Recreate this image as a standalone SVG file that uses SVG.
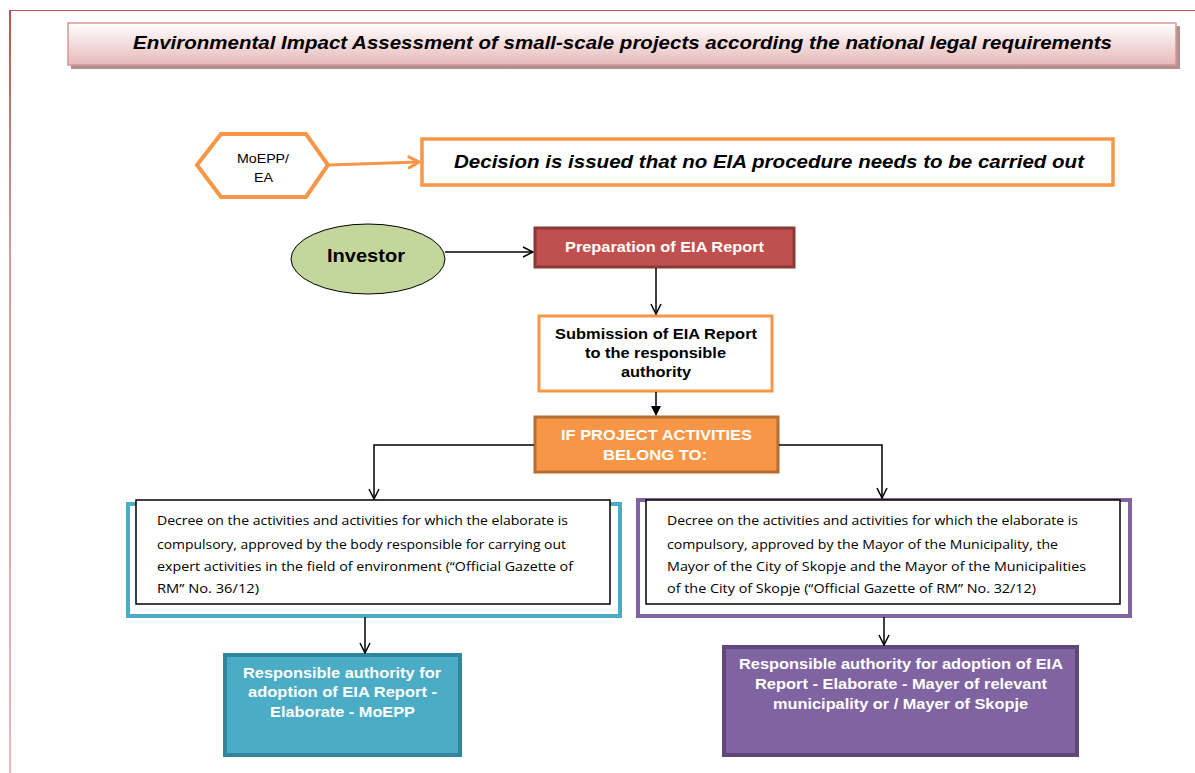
<svg xmlns="http://www.w3.org/2000/svg" width="1195" height="773" viewBox="0 0 1195 773">
<defs>
<linearGradient id="titleGrad" x1="0" y1="0" x2="0" y2="1">
<stop offset="0" stop-color="#ffffff"/>
<stop offset="1" stop-color="#e6b9b8"/>
</linearGradient>
<linearGradient id="leftGrad" x1="0" y1="0" x2="0" y2="1">
<stop offset="0" stop-color="#c0504d"/>
<stop offset="0.3" stop-color="#d99694"/>
<stop offset="1" stop-color="#e6b9b8"/>
</linearGradient>
<marker id="openBlack" viewBox="0 0 12 12" refX="11" refY="6" markerWidth="12" markerHeight="12" markerUnits="userSpaceOnUse" orient="auto">
<path d="M1,1 L11,6 L1,11" fill="none" stroke="#000" stroke-width="1.5"/>
</marker>
<marker id="openOrange" viewBox="0 0 14 14" refX="12" refY="7" markerWidth="14" markerHeight="14" markerUnits="userSpaceOnUse" orient="auto">
<path d="M2,1.5 L12,7 L2,12.5" fill="none" stroke="#f79646" stroke-width="3" stroke-linecap="round"/>
</marker>
<marker id="solidBlack" viewBox="0 0 10 10" refX="9" refY="5" markerWidth="10" markerHeight="10" markerUnits="userSpaceOnUse" orient="auto">
<path d="M0,0 L10,5 L0,10 Z" fill="#000"/>
</marker>
</defs>
<style>
.t-bold{font-family:"Liberation Sans",Arial,sans-serif;font-weight:bold;}
.t-reg{font-family:"Liberation Sans",Arial,sans-serif;}
.t-decree{font-family:"Open Sans","Liberation Sans",sans-serif;font-size:12.5px;fill:#000;}
.white{fill:#fff;}
.conn{stroke:#000;stroke-width:1.5;fill:none;}
</style>
<rect width="1195" height="773" fill="#fff"/>
<!-- page frame -->
<line x1="9" y1="10.5" x2="1195" y2="10.5" stroke="#c0504d" stroke-width="1"/>
<rect x="9" y="10" width="2" height="763" fill="url(#leftGrad)"/>

<g id="title">
<rect x="71" y="26" width="1109" height="43" fill="#b09090"/>
<rect x="68" y="23" width="1108" height="42" fill="url(#titleGrad)" stroke="#d99694" stroke-width="1.5"/>
<text x="622.5" y="49" text-anchor="middle" class="t-bold" font-style="italic" font-size="18" textLength="979" lengthAdjust="spacingAndGlyphs" fill="#000">Environmental Impact Assessment of small-scale projects according the national legal requirements</text>
</g>

<g id="moepp">
<polygon points="197,165 221,134 306,134 328,165 306,197 221,197" fill="#fff" stroke="#f79646" stroke-width="4" stroke-linejoin="miter"/>
<text x="263" y="163" text-anchor="middle" class="t-reg" font-size="13" textLength="52" lengthAdjust="spacingAndGlyphs" fill="#000">MoEPP/</text>
<text x="263.5" y="182" text-anchor="middle" class="t-reg" font-size="13" textLength="19" lengthAdjust="spacingAndGlyphs" fill="#000">EA</text>
</g>

<g id="decision">
<rect x="422" y="139" width="691" height="46" fill="#fff" stroke="#f79646" stroke-width="3.5"/>
<text x="769" y="168" text-anchor="middle" class="t-bold" font-style="italic" font-size="19" textLength="630" lengthAdjust="spacingAndGlyphs" fill="#000">Decision is issued that no EIA procedure needs to be carried out</text>
</g>

<g id="investor">
<ellipse cx="368" cy="259" rx="77" ry="35" fill="#c3d69b" stroke="#000" stroke-width="1"/>
<text x="366" y="262" text-anchor="middle" class="t-bold" font-size="18.5" textLength="78" lengthAdjust="spacingAndGlyphs" fill="#000">Investor</text>
</g>

<g id="preparation">
<rect x="535" y="228" width="259" height="39" fill="#c0504d" stroke="#8c3836" stroke-width="3"/>
<text x="664.5" y="252" text-anchor="middle" class="t-bold white" font-size="15" textLength="199" lengthAdjust="spacingAndGlyphs">Preparation of EIA Report</text>
</g>

<g id="submission">
<rect x="539" y="316" width="233" height="75" fill="#fff" stroke="#f79646" stroke-width="3"/>
<text x="656" y="339" text-anchor="middle" class="t-bold" font-size="15" textLength="202" lengthAdjust="spacingAndGlyphs" fill="#000">Submission of EIA Report</text>
<text x="655.5" y="358" text-anchor="middle" class="t-bold" font-size="15" textLength="141" lengthAdjust="spacingAndGlyphs" fill="#000">to the responsible</text>
<text x="656" y="377" text-anchor="middle" class="t-bold" font-size="15" textLength="70" lengthAdjust="spacingAndGlyphs" fill="#000">authority</text>
</g>

<g id="ifproject">
<rect x="535" y="417" width="243" height="55" fill="#f79646" stroke="#b66d31" stroke-width="3"/>
<text x="656.5" y="440" text-anchor="middle" class="t-bold white" font-size="15" textLength="191" lengthAdjust="spacingAndGlyphs">IF PROJECT ACTIVITIES</text>
<text x="655" y="460" text-anchor="middle" class="t-bold white" font-size="15" textLength="104" lengthAdjust="spacingAndGlyphs">BELONG TO:</text>
</g>

<g id="decree-left">
<rect x="128" y="504" width="492" height="112" fill="none" stroke="#4bacc6" stroke-width="4"/>
<rect x="136" y="500" width="474" height="104" fill="#fff" stroke="#000" stroke-width="1.5"/>
<text x="157" y="525" class="t-decree" textLength="411" lengthAdjust="spacingAndGlyphs">Decree on the activities and activities for which the elaborate is</text>
<text x="157" y="549" class="t-decree" textLength="409" lengthAdjust="spacingAndGlyphs">compulsory, approved by the body responsible for carrying out</text>
<text x="157" y="571" class="t-decree" textLength="416" lengthAdjust="spacingAndGlyphs">expert activities in the field  of environment (“Official Gazette of</text>
<text x="157" y="593" class="t-decree" textLength="102" lengthAdjust="spacingAndGlyphs">RM” No. 36/12)</text>
</g>

<g id="decree-right">
<rect x="638" y="500" width="492" height="116" fill="none" stroke="#8064a2" stroke-width="4"/>
<rect x="646" y="500" width="474" height="104" fill="#fff" stroke="#000" stroke-width="1.5"/>
<text x="667" y="525" class="t-decree" textLength="411" lengthAdjust="spacingAndGlyphs">Decree on the activities and activities for which the elaborate is</text>
<text x="667" y="549" class="t-decree" textLength="391" lengthAdjust="spacingAndGlyphs">compulsory, approved by the Mayor of the Municipality, the</text>
<text x="667" y="571" class="t-decree" textLength="419" lengthAdjust="spacingAndGlyphs">Mayor of the City of Skopje and  the Mayor of the  Municipalities</text>
<text x="667" y="593" class="t-decree" textLength="369" lengthAdjust="spacingAndGlyphs">of the City of Skopje (“Official Gazette of RM” No. 32/12)</text>
</g>

<g id="authority-left">
<rect x="225" y="655" width="235" height="100" fill="#4bacc6" stroke="#31859c" stroke-width="4"/>
<text x="342" y="678" text-anchor="middle" class="t-bold white" font-size="15.5" textLength="198" lengthAdjust="spacingAndGlyphs">Responsible authority for</text>
<text x="342.5" y="697" text-anchor="middle" class="t-bold white" font-size="15.5" textLength="189" lengthAdjust="spacingAndGlyphs">adoption of EIA Report -</text>
<text x="342.5" y="717" text-anchor="middle" class="t-bold white" font-size="15.5" textLength="145" lengthAdjust="spacingAndGlyphs">Elaborate - MoEPP</text>
</g>

<g id="authority-right">
<rect x="724" y="647" width="353" height="108" fill="#8064a2" stroke="#5f497a" stroke-width="4"/>
<text x="901" y="669" text-anchor="middle" class="t-bold white" font-size="15.5" textLength="324" lengthAdjust="spacingAndGlyphs">Responsible authority for adoption of EIA</text>
<text x="901" y="689" text-anchor="middle" class="t-bold white" font-size="15.5" textLength="292" lengthAdjust="spacingAndGlyphs">Report - Elaborate - Mayer of relevant</text>
<text x="900.5" y="709" text-anchor="middle" class="t-bold white" font-size="15.5" textLength="255" lengthAdjust="spacingAndGlyphs">municipality or / Mayer of Skopje</text>
</g>

<g id="connectors">
<line x1="329" y1="165" x2="419" y2="162" stroke="#f79646" stroke-width="3" marker-end="url(#openOrange)"/>
<line x1="445" y1="252" x2="533" y2="252" class="conn" marker-end="url(#openBlack)"/>
<line x1="656" y1="268" x2="656" y2="314" class="conn" marker-end="url(#openBlack)"/>
<line x1="656" y1="392" x2="656" y2="415" class="conn" marker-end="url(#solidBlack)"/>
<polyline points="534,445 374,445 374,499" class="conn" marker-end="url(#openBlack)"/>
<polyline points="779,445 882,445 882,498" class="conn" marker-end="url(#openBlack)"/>
<line x1="365" y1="617" x2="365" y2="653" class="conn" marker-end="url(#openBlack)"/>
<line x1="884" y1="617" x2="884" y2="645" class="conn" marker-end="url(#openBlack)"/>
</g>
</svg>
